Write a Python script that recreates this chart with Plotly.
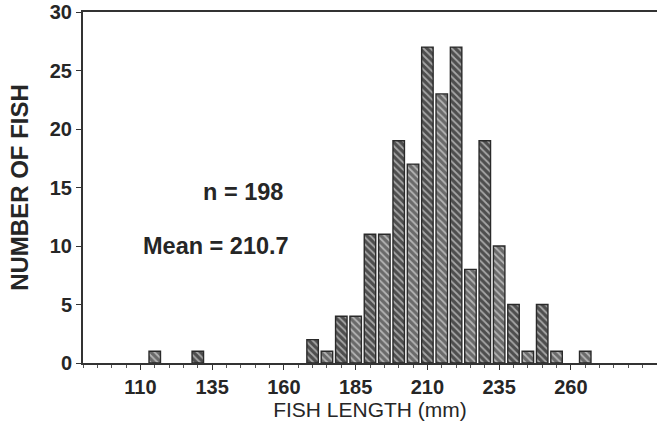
import plotly.graph_objects as go

# Bin centres (mm) and counts
lengths = [115, 130, 170, 175, 180, 185, 190, 195, 200, 205, 210, 215, 220,
           225, 230, 235, 240, 245, 250, 255, 265]
counts = [1, 1, 2, 1, 4, 4, 11, 11, 19, 17, 27, 23, 27,
          8, 19, 10, 5, 1, 5, 1, 1]
x_ticks = [110, 135, 160, 185, 210, 235, 260]
y_ticks = [0, 5, 10, 15, 20, 25, 30]

# alternate darker / lighter hatching like the scanned original
bg = ["#4e4e4e" if (int(v) // 5) % 2 == 0 else "#6a6a6a" for v in lengths]

fig = go.Figure()
fig.add_trace(go.Bar(
    x=lengths, y=counts, width=4.0,
    marker=dict(
        color=bg,
        line=dict(color="#2a2a2a", width=1.4),
        pattern=dict(shape="\\", fgcolor="#e6e6e6", bgcolor=bg,
                     size=5, solidity=0.35),
    ),
    showlegend=False,
))

font_main = "Liberation Sans, Arial, sans-serif"
txt = "#262626"

fig.update_layout(
    width=657, height=426,
    margin=dict(l=83, r=0, t=12, b=63),
    paper_bgcolor="white", plot_bgcolor="white",
    font=dict(family=font_main, color=txt),
    xaxis=dict(
        range=[90, 290],
        tickmode="array", tickvals=x_ticks, ticktext=[str(t) for t in x_ticks],
        ticks="outside", ticklen=5, tickcolor="#333", tickwidth=1,
        minor=dict(dtick=5, tick0=110, ticks="outside", ticklen=3,
                   tickcolor="#555"),
        showline=True, linecolor="#333333", linewidth=2, mirror=True,
        showgrid=False, zeroline=False,
        tickfont=dict(size=20, family=font_main, color=txt, weight="bold"),
        title=dict(text="FISH LENGTH (mm)", standoff=4,
                   font=dict(size=21, family=font_main, color=txt)),
    ),
    yaxis=dict(
        range=[0, 30],
        tickmode="array", tickvals=y_ticks,
        ticks="outside", ticklen=5, tickcolor="#333", tickwidth=1,
        showline=True, linecolor="#333333", linewidth=2,
        showgrid=False, zeroline=False,
        tickfont=dict(size=20, family=font_main, color=txt, weight="bold"),
        title=dict(text="NUMBER OF FISH", standoff=14,
                   font=dict(size=24, family=font_main, color=txt, weight="bold")),
    ),
    annotations=[
        dict(x=145.6, y=14.6, xref="x", yref="y", text="n = 198",
             showarrow=False,
             font=dict(size=23.5, family=font_main, color=txt, weight="bold")),
        dict(x=136.3, y=10.0, xref="x", yref="y", text="Mean = 210.7",
             showarrow=False,
             font=dict(size=23.5, family=font_main, color=txt, weight="bold")),
    ],
)

fig.write_html("out.html", config={"displayModeBar": False},
               post_script="document.body.style.margin='0';")
